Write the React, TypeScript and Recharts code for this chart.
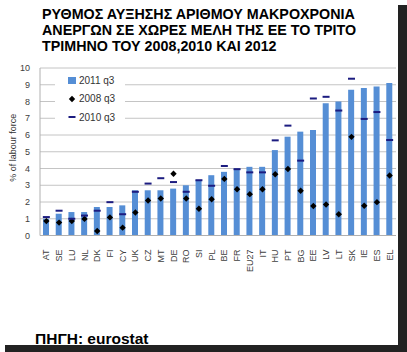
import React from 'react';
import { ComposedChart, Bar, Line, XAxis, YAxis, CartesianGrid, Legend } from 'recharts';

const countries = ['AT', 'SE', 'LU', 'NL', 'DK', 'FI', 'CY', 'UK', 'CZ', 'MT', 'DE', 'RO', 'SI', 'PL', 'BE', 'FR', 'EU27', 'IT', 'HU', 'PT', 'BG', 'EE', 'LV', 'LT', 'SK', 'IE', 'ES', 'EL'];
const q2011 = [1.0, 1.3, 1.4, 1.4, 1.7, 1.7, 1.8, 2.7, 2.7, 2.7, 2.8, 3.0, 3.3, 3.6, 3.8, 4.0, 4.1, 4.1, 5.1, 5.9, 6.2, 6.3, 7.9, 8.0, 8.7, 8.8, 8.9, 9.1];
const q2008 = [0.86, 0.77, 0.87, 0.99, 0.27, 1.08, 0.47, 1.37, 2.09, 2.21, 3.69, 2.21, 1.6, 2.16, 3.38, 2.76, 2.47, 2.76, 3.66, 3.97, 2.67, 1.76, 1.85, 1.27, 5.89, 1.78, 1.99, 3.58];
const q2010 = [1.1, 1.48, 1.0, 1.19, 1.48, 1.99, 1.27, 2.61, 3.1, 3.42, 3.19, 2.61, 3.3, 2.97, 4.15, 3.96, 3.77, 3.77, 5.68, 6.56, 4.47, 8.18, 8.28, 7.46, 9.36, 6.96, 7.37, 5.7];
const yTicks = [0, 1, 2, 3, 4, 5, 6, 7, 8, 9, 10];

const titleLines = ['ΡΥΘΜΟΣ ΑΥΞΗΣΗΣ ΑΡΙΘΜΟΥ ΜΑΚΡΟΧΡΟΝΙΑ', 'ΑΝΕΡΓΩΝ ΣΕ ΧΩΡΕΣ ΜΕΛΗ ΤΗΣ ΕΕ ΤΟ ΤΡΙΤΟ', 'ΤΡΙΜΗΝΟ ΤΟΥ 2008,2010 ΚΑΙ 2012'];

const chartData = countries.map((name, i) => ({
  name,
  y2011: q2011[i],
  y2008: q2008[i],
  y2010: q2010[i],
}));

const BLUE = '#558ed5';
const NAVY = '#1c1c80';
const FONT = '"Liberation Sans", Arial, sans-serif';

const diamond = (props: any) => {
  const { cx, cy, index } = props;
  if (cx == null || cy == null) return <g key={index} />;
  return <path key={index} d={`M${cx},${cy - 3.2}L${cx + 3.2},${cy}L${cx},${cy + 3.2}L${cx - 3.2},${cy}Z`} fill="#000" />;
};

const dash = (props: any) => {
  const { cx, cy, index } = props;
  if (cx == null || cy == null) return <g key={index} />;
  return <rect key={index} x={cx - 3.5} y={cy - 1} width={7} height={2} fill={NAVY} />;
};

const XTick = ({ x, y, payload }: any) => (
  <text x={x} y={y + 6} transform={`rotate(-90 ${x} ${y + 6})`} textAnchor="end" dy={3} fontSize={9} fill="#404040" fontFamily={FONT}>
    {payload.value}
  </text>
);

const renderLegend = () => {
  const row = { display: 'flex', alignItems: 'center', height: 18.5, fontSize: 10, color: '#333' } as const;
  return (
    <div style={{ background: '#fff', width: 70, padding: '1px 0', fontFamily: FONT }}>
      <div style={row}>
        <span style={{ width: 8, height: 7, background: BLUE, marginLeft: 13, marginRight: 3 }} />
        2011 q3
      </div>
      <div style={row}>
        <svg width={8} height={8} style={{ marginLeft: 13, marginRight: 3 }}>
          <path d="M4,0.8L7.2,4L4,7.2L0.8,4Z" fill="#000" />
        </svg>
        2008 q3
      </div>
      <div style={row}>
        <svg width={8} height={8} style={{ marginLeft: 13, marginRight: 3 }}>
          <rect x={0.5} y={3} width={7} height={2} fill={NAVY} />
        </svg>
        2010 q3
      </div>
    </div>
  );
};

export default function App() {
  return (
    <div style={{ position: 'absolute', left: 0, top: 0, width: 407, height: 352, background: '#fff', fontFamily: FONT }}>
      <div style={{ position: 'absolute', left: 398, top: 5, width: 9, height: 347, background: '#222' }} />
      <div style={{ position: 'absolute', left: 5, top: 345, width: 402, height: 7, background: '#222' }} />
      <div style={{ position: 'absolute', left: 42, top: 5.5, fontSize: 14.3, fontWeight: 'bold', lineHeight: '16px', color: '#000', whiteSpace: 'nowrap' }}>
        {titleLines.map((t) => (
          <div key={t}>{t}</div>
        ))}
      </div>
      <div style={{ position: 'absolute', left: 0, top: 0 }}>
        <ComposedChart width={398} height={345} data={chartData} margin={{ top: 68, right: 2, bottom: 22, left: 0 }} barCategoryGap="50%">
          <CartesianGrid vertical={false} stroke="#c4c4c4" />
          <XAxis dataKey="name" interval={0} tick={<XTick />} tickLine={false} axisLine={{ stroke: '#b0b0b0' }} height={30} />
          <YAxis
            domain={[0, 10]}
            ticks={yTicks}
            interval={0}
            width={40}
            tickLine={false}
            tickSize={0}
            tickMargin={10}
            axisLine={{ stroke: '#b0b0b0' }}
            tick={{ fontSize: 9, fill: '#404040', fontFamily: FONT }}
            label={{ value: '% of labour force', angle: -90, position: 'insideLeft', offset: 13, dy: -4, style: { fontSize: 9, fill: '#333', textAnchor: 'middle', fontFamily: FONT } }}
          />
          <YAxis yAxisId="right" orientation="right" domain={[0, 10]} width={0} tick={false} tickLine={false} axisLine={{ stroke: '#c4c4c4' }} />
          <Legend content={renderLegend} wrapperStyle={{ position: 'absolute', left: 55, top: 70, width: 70 }} />
          <Bar dataKey="y2011" name="2011 q3" fill={BLUE} barSize={6} isAnimationActive={false} />
          <Line dataKey="y2008" name="2008 q3" stroke="none" dot={diamond} activeDot={false} isAnimationActive={false} />
          <Line dataKey="y2010" name="2010 q3" stroke="none" dot={dash} activeDot={false} isAnimationActive={false} />
        </ComposedChart>
      </div>
      <div style={{ position: 'absolute', left: 35, top: 330, fontSize: 15.5, fontWeight: 'bold', color: '#000', whiteSpace: 'nowrap' }}>
        ΠΗΓΗ: eurostat
      </div>
    </div>
  );
}
